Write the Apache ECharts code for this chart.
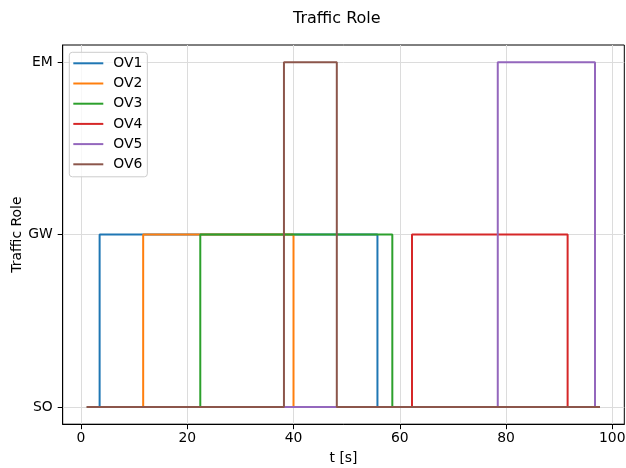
<!DOCTYPE html>
<html>
<head>
<meta charset="utf-8">
<script src="https://cdn.jsdelivr.net/npm/echarts@6/dist/echarts.min.js"></script>
<style>
  html, body { margin: 0; padding: 0; background: #fff; }
  #chart { width: 626px; height: 468px; }
</style>
</head>
<body>
<div id="chart"></div>
<script>
// Role levels shown on the y axis
const roleLabels = ['SO', 'GW', 'EM'];
const xTicks = [0, 20, 40, 60, 80, 100];

// Vehicle names
const vehicles = ['OV1', 'OV2', 'OV3', 'OV4', 'OV5', 'OV6'];

// Role change points per vehicle: times [s] and role index (0=SO, 1=GW, 2=EM)
const ov1Times = [1.1, 3.5, 55.8, 97.7];
const ov1Roles = [0, 1, 0, 0];
const ov2Times = [1.1, 11.7, 40.0, 97.7];
const ov2Roles = [0, 1, 0, 0];
const ov3Times = [1.1, 22.45, 58.6, 97.7];
const ov3Roles = [0, 1, 0, 0];
const ov4Times = [1.1, 62.3, 91.6, 97.7];
const ov4Roles = [0, 1, 0, 0];
const ov5Times = [1.1, 78.45, 96.75, 97.7];
const ov5Roles = [0, 2, 0, 0];
const ov6Times = [1.1, 38.2, 48.15, 97.7];
const ov6Roles = [0, 2, 0, 0];

const allTimes = [ov1Times, ov2Times, ov3Times, ov4Times, ov5Times, ov6Times];
const allRoles = [ov1Roles, ov2Roles, ov3Roles, ov4Roles, ov5Roles, ov6Roles];
const colors = ['#1f77b4', '#ff7f0e', '#2ca02c', '#d62728', '#9467bd', '#8c564b'];

const font = 'DejaVu Sans';
const chart = echarts.init(document.getElementById('chart'), null, { renderer: 'canvas' });

const series = vehicles.map((name, i) => ({
  name: name,
  type: 'line',
  step: 'end',
  data: allTimes[i].map((t, k) => [t, allRoles[i][k]]),
  showSymbol: false,
  symbol: 'none',
  lineStyle: { width: 2, color: colors[i] },
  itemStyle: { color: colors[i] },
  z: 10 + i,
  animation: false
}));

chart.setOption({
  animation: false,
  title: {
    text: 'Traffic Role',
    left: 288,
    top: 6,
    textStyle: { fontFamily: font, fontSize: 16, fontWeight: 'normal', color: '#000' }
  },
  grid: {
    left: 62.7, right: 1.7, top: 45, bottom: 43.8,
    containLabel: false,
    outerBoundsMode: 'none',
    show: true, borderColor: '#000', borderWidth: 1, backgroundColor: 'transparent'
  },
  legend: {
    orient: 'vertical',
    left: 69.3,
    top: 52.3,
    data: vehicles.map(v => ({ name: v, icon: 'rect' })),
    itemWidth: 30,
    itemHeight: 2,
    itemGap: 4.2,
    padding: [3, 5, 4.5, 4],
    backgroundColor: 'rgba(255,255,255,0.8)',
    borderColor: '#cccccc',
    borderWidth: 1,
    borderRadius: 3,
    textStyle: { fontFamily: font, fontSize: 13.9, color: '#000', lineHeight: 16, padding: [0, 0, 0, 5] }
  },
  xAxis: {
    type: 'value',
    min: -3.45,
    max: 102.27,
    name: 't [s]',
    nameLocation: 'middle',
    nameGap: 27,
    nameMoveOverlap: false,
    nameTextStyle: { fontFamily: font, fontSize: 13.9, color: '#000' },
    axisLine: { show: true, onZero: false, lineStyle: { color: '#000', width: 1 } },
    axisTick: { show: true, customValues: xTicks, length: 5, lineStyle: { color: '#000', width: 1 } },
    axisLabel: {
      customValues: xTicks, margin: 7,
      fontFamily: font, fontSize: 13.9, color: '#000'
    },
    splitLine: { show: true, lineStyle: { color: '#dcdcdc', width: 1 } }
  },
  yAxis: {
    type: 'value',
    min: -0.1,
    max: 2.1,
    name: 'Traffic Role',
    nameLocation: 'middle',
    nameGap: 38,
    nameMoveOverlap: false,
    nameRotate: 90,
    nameTextStyle: { fontFamily: font, fontSize: 13.9, color: '#000' },
    axisLine: { show: true, onZero: false, lineStyle: { color: '#000', width: 1 } },
    axisTick: { show: true, customValues: [0, 1, 2], length: 5, lineStyle: { color: '#000', width: 1 } },
    axisLabel: {
      customValues: [0, 1, 2], margin: 10,
      fontFamily: font, fontSize: 13.9, color: '#000',
      formatter: v => roleLabels[Math.round(v)] ?? ''
    },
    splitLine: { show: true, lineStyle: { color: '#dcdcdc', width: 1 } }
  },
  series: series
});
</script>
</body>
</html>
